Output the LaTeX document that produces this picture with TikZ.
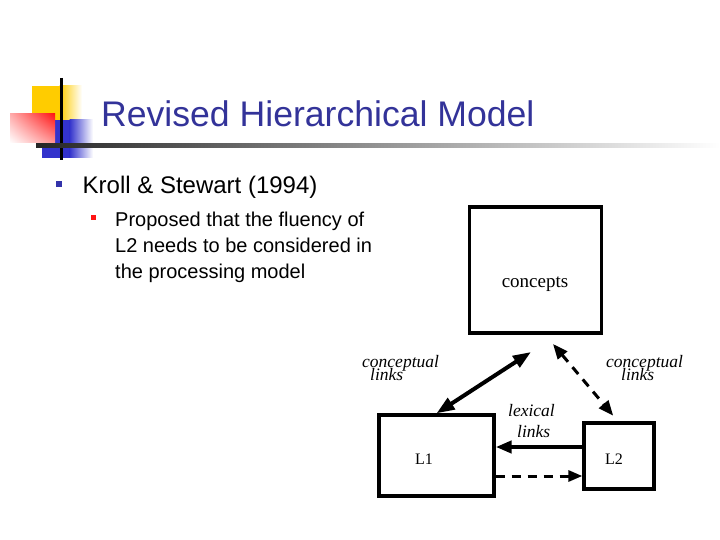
\documentclass[tikz,border=0pt]{standalone}
\usepackage{fontspec}
\setmainfont{Liberation Sans}
\newfontfamily\diagserif{Liberation Serif}
\usetikzlibrary{arrows.meta,calc,shadings}
\definecolor{titleblue}{RGB}{51,51,153}
\definecolor{bulletblue}{RGB}{51,51,170}
\definecolor{gold}{RGB}{255,204,0}
\definecolor{decoblue}{RGB}{51,51,204}
\definecolor{decored}{RGB}{255,20,20}
\begin{document}
\begin{tikzpicture}[x=1pt,y=-1pt,
  txt/.style={anchor=base west, inner sep=0pt},
  ctxt/.style={anchor=base, inner sep=0pt},
  box/.style={draw, line width=3.3pt, inner sep=0pt},
  lbl/.style={anchor=base west, inner sep=0pt, font=\diagserif\itshape\fontsize{17.5}{20}\selectfont},
  lbltwo/.style={anchor=base west, inner sep=0pt, align=left, font=\diagserif\itshape\fontsize{17.5}{13}\selectfont},
  solidarrow/.style={line width=4pt, {Triangle[length=18pt,width=13pt]}-{Triangle[length=18pt,width=13pt]}},
  dasharrow/.style={line width=3pt, dash pattern=on 9pt off 7pt, {Triangle[length=15pt,width=12pt]}-{Triangle[length=15pt,width=12pt]}}
]
\useasboundingbox (0,0) rectangle (720,540);
\fill[white] (0,0) rectangle (720,540);

% decoration
\fill[gold] (32,86) rectangle (60,120);
\shade[left color=gold, right color=white] (59.5,86) rectangle (82,120);
\fill[decoblue] (42,120) rectangle (70,158);
\shade[left color=decoblue, right color=white] (69.5,120) rectangle (93,158);
\shade[upper right=decored, lower left=white, upper left=decored!35, lower right=decored!45] (10,114) rectangle (55,143);
\draw[line width=3pt] (61,78) -- (61,160);
\shade[left color=black!85, middle color=black!35, right color=white] (36,144) rectangle (720,148);

% title
\node[txt, text=titleblue, font=\fontsize{35.6}{40}\selectfont] (title) at (101,127) {Revised Hierarchical Model};

% bullets
\node[fill=bulletblue, minimum size=6.5pt, inner sep=0pt] (b1) at (59,184) {};
\node[txt, font=\fontsize{24}{28}\selectfont] (kroll) at (82.5,194) {Kroll \& Stewart (1994)};
\node[fill=decored, minimum size=5pt, inner sep=0pt] (b2) at (93,218) {};
\node[txt, font=\fontsize{20}{26}\selectfont] (s1) at (115,226) {Proposed that the fluency of};
\node[txt, font=\fontsize{20}{26}\selectfont] (s2) at (115,252) {L2 needs to be considered in};
\node[txt, font=\fontsize{20}{26}\selectfont] (s3) at (115,278) {the processing model};

% diagram boxes
\node[box, minimum width=132pt, minimum height=126pt] (concepts) at (535.5,270) {};
\node[ctxt, font=\diagserif\fontsize{19}{22}\selectfont] (ctext) at (535,287) {concepts};
\node[box, minimum width=115pt, minimum height=81pt] (L1) at (436.5,455.5) {};
\node[box, minimum width=70pt, minimum height=66pt] (L2) at (619,456) {};
\node[ctxt, font=\diagserif\fontsize{16}{20}\selectfont] (l1text) at (424,464) {L1};
\node[ctxt, font=\diagserif\fontsize{16}{20}\selectfont] (l2text) at (614,464) {L2};

% arrow end points
\coordinate (cA) at (531,352);
\coordinate (cB) at (553,344);

\draw[solidarrow] (L1.north) -- (cA);
\draw[dasharrow, shorten >=7.5pt] (cB) -- ($(L2.north)+(-1,0)$);
\draw[line width=4pt, -{Triangle[length=16pt,width=12pt]}] ($(L2.west)+(0,-9)$) -- ($(L1.east)+(0,-8.5)$);
\draw[line width=3pt, dash pattern=on 9pt off 7pt, -{Triangle[length=14pt,width=11pt]}] ($(L1.east)+(0,20.5)$) -- ($(L2.west)+(0,20)$);

% labels
\node[lbltwo] (cl) at (362,380) {conceptual\\[-4pt]\hspace*{8pt}links};
\node[lbltwo] (cr) at (606,380) {conceptual\\[-4pt]\hspace*{15pt}links};
\node[lbl] (lx1) at (508,416) {lexical};
\node[lbl] (lx2) at (517,437) {links};
\end{tikzpicture}
\end{document}
